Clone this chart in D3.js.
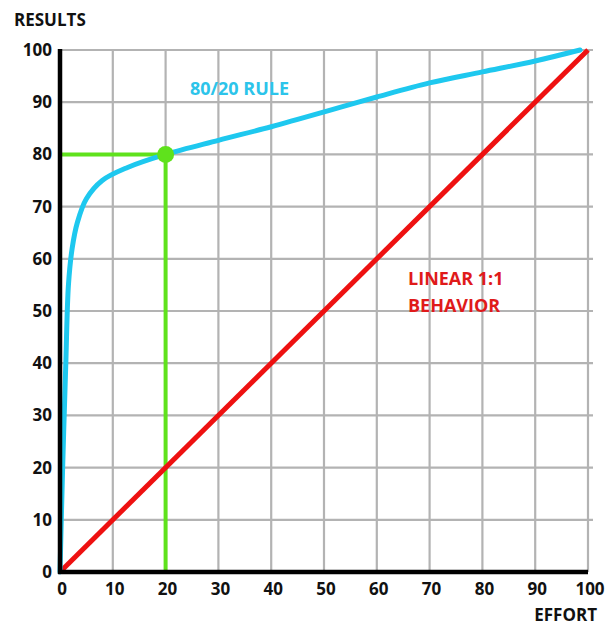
<!DOCTYPE html>
<html><head><meta charset="utf-8">
<script src="https://cdn.jsdelivr.net/npm/d3@7"></script>
<style>html,body{margin:0;padding:0;background:#fff;}svg{display:block;}</style>
</head><body>
<script>
const xTicks = [0,10,20,30,40,50,60,70,80,90,100];
const yTicks = [0,10,20,30,40,50,60,70,80,90,100];
// 80/20 rule curve (effort, results)
const ruleEffort  = [0, 0.5, 1.1, 1.6, 2.3, 3.3, 5, 8, 12.8, 20, 30, 40, 53, 60, 70, 80, 90, 98.5];
const ruleResults = [0, 20, 40, 55, 62, 67, 71.5, 75, 77.5, 80, 82.7, 85.3, 89, 91, 93.7, 95.8, 97.9, 100];
// linear 1:1
const linEffort  = [0, 100];
const linResults = [0, 100];
// highlighted point
const markEffort = 20, markResults = 80;

const W = 613, H = 626;
const svg = d3.select("body").append("svg").attr("width", W).attr("height", H);
const x = d3.scaleLinear().domain([0,100]).range([60,588]);
const y = d3.scaleLinear().domain([0,100]).range([572,50]);
const font = "'Open Sans', Lato, sans-serif";

// grid
const grid = svg.append("g").attr("stroke","#b3b3b3").attr("stroke-width",2.2);
grid.selectAll("line.v").data(xTicks.slice(1)).join("line")
  .attr("x1",d=>x(d)).attr("x2",d=>x(d)).attr("y1",y(100)).attr("y2",y(0));
grid.selectAll("line.h").data(yTicks.slice(1)).join("line")
  .attr("x1",x(0)).attr("x2",x(100)+5).attr("y1",d=>y(d)).attr("y2",d=>y(d));

// green guide lines
const green = "#5fe21c";
svg.append("line").attr("x1",x(0)).attr("x2",x(markEffort)).attr("y1",y(markResults)).attr("y2",y(markResults))
  .attr("stroke",green).attr("stroke-width",4);
svg.append("line").attr("x1",x(markEffort)).attr("x2",x(markEffort)).attr("y1",y(markResults)).attr("y2",y(0))
  .attr("stroke",green).attr("stroke-width",4);

// red linear
const line = d3.line().x(d=>x(d[0])).y(d=>y(d[1]));
svg.append("path").datum(linEffort.map((e,i)=>[e,linResults[i]]))
  .attr("d",line).attr("fill","none").attr("stroke","#ee1111").attr("stroke-width",5);

// blue curve
const curve = d3.line().x(d=>x(d[0])).y(d=>y(d[1])).curve(d3.curveCatmullRom.alpha(0.5));
svg.append("path").datum(ruleEffort.map((e,i)=>[e,ruleResults[i]]))
  .attr("d",curve).attr("fill","none").attr("stroke","#1ec8ef").attr("stroke-width",5).attr("stroke-linecap","round");

// dot
svg.append("circle").attr("cx",x(markEffort)).attr("cy",y(markResults)).attr("r",8.5).attr("fill",green);

// axes (black)
svg.append("line").attr("x1",x(0)).attr("x2",x(0)).attr("y1",y(100)-1).attr("y2",y(0)+2)
  .attr("stroke","#000").attr("stroke-width",4.5);
svg.append("line").attr("x1",x(0)-2).attr("x2",x(100)).attr("y1",y(0)).attr("y2",y(0))
  .attr("stroke","#000").attr("stroke-width",4.5);

// tick labels
svg.append("g").selectAll("text").data(yTicks).join("text")
  .attr("x",52).attr("y",d=>y(d)+6).attr("text-anchor","end")
  .attr("font-family",font).attr("font-weight","bold").attr("font-size",17).attr("fill","#111")
  .text(d=>d);
svg.append("g").selectAll("text").data(xTicks).join("text")
  .attr("x",d=>x(d)+2).attr("y",595).attr("text-anchor","middle")
  .attr("font-family",font).attr("font-weight","bold").attr("font-size",17).attr("fill","#111")
  .text(d=>d);

// axis titles
svg.append("text").attr("x",14).attr("y",26).attr("font-family",font).attr("font-weight","bold")
  .attr("font-size",17).attr("fill","#111").text("RESULTS");
svg.append("text").attr("x",597).attr("y",621).attr("text-anchor","end").attr("font-family",font).attr("font-weight","bold")
  .attr("font-size",17).attr("fill","#111").text("EFFORT");

// annotations
svg.append("text").attr("x",190).attr("y",95).attr("font-family",font).attr("font-weight","bold")
  .attr("font-size",18).attr("fill","#2cc4ea").text("80/20 RULE");
svg.append("text").attr("x",408).attr("y",285).attr("font-family",font).attr("font-weight","bold")
  .attr("font-size",18).attr("fill","#e01a1a").text("LINEAR 1:1");
svg.append("text").attr("x",408).attr("y",312).attr("font-family",font).attr("font-weight","bold")
  .attr("font-size",18).attr("fill","#e01a1a").text("BEHAVIOR");
</script>
</body></html>
